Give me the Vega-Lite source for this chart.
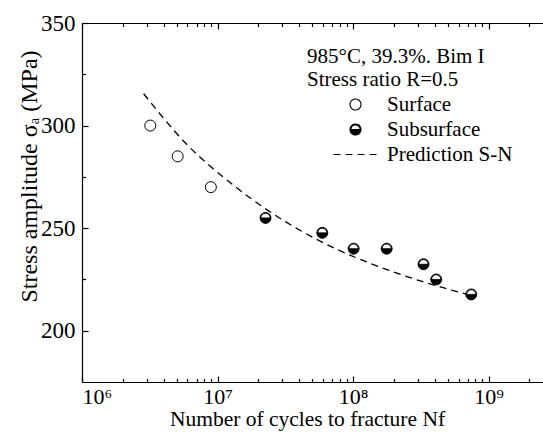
{
  "$schema": "https://vega.github.io/schema/vega-lite/v6.json",
  "autosize": "none",
  "padding": {"left": 82, "top": 23, "right": 0, "bottom": 55},
  "width": 461,
  "height": 359,
  "config": {
    "font": "Liberation Serif",
    "view": {"stroke": null},
    "axis": {
      "grid": false,
      "domainColor": "black",
      "domainWidth": 1.2,
      "tickColor": "black",
      "tickWidth": 1.2,
      "labelColor": "black",
      "titleColor": "black",
      "labelFontSize": 23,
      "titleFontSize": 23,
      "titleFontWeight": "normal"
    },
    "legend": {
      "orient": "none",
      "legendX": 225,
      "legendY": 23,
      "padding": 0,
      "titleFontSize": 21,
      "titleFontWeight": "normal",
      "titleColor": "black",
      "titleLineHeight": 23,
      "titlePadding": 4,
      "labelFontSize": 21,
      "labelColor": "black",
      "labelOffset": 21,
      "symbolSize": 121,
      "symbolOffset": 38,
      "symbolStrokeColor": "black",
      "symbolStrokeWidth": 1,
      "rowPadding": 3
    }
  },
  "datasets": {
    "tests": [
      {"cycles": 3190000, "stress": 300, "site": "Surface"},
      {"cycles": 5080000, "stress": 285, "site": "Surface"},
      {"cycles": 8930000, "stress": 270, "site": "Surface"},
      {"cycles": 22600000, "stress": 255, "site": "Subsurface"},
      {"cycles": 59300000, "stress": 247.7, "site": "Subsurface"},
      {"cycles": 101000000, "stress": 240, "site": "Subsurface"},
      {"cycles": 177000000, "stress": 240, "site": "Subsurface"},
      {"cycles": 331000000, "stress": 232.4, "site": "Subsurface"},
      {"cycles": 411000000, "stress": 225, "site": "Subsurface"},
      {"cycles": 745000000, "stress": 217.7, "site": "Subsurface"}
    ],
    "prediction": [
      {"cycles": 2850000, "stress": 315.5, "site": "Prediction S-N"},
      {"cycles": 5800000, "stress": 291.5, "site": "Prediction S-N"},
      {"cycles": 13600000, "stress": 270.1, "site": "Prediction S-N"},
      {"cycles": 23200000, "stress": 258.9, "site": "Prediction S-N"},
      {"cycles": 67900000, "stress": 241.2, "site": "Prediction S-N"},
      {"cycles": 146000000, "stress": 231.9, "site": "Prediction S-N"},
      {"cycles": 323000000, "stress": 224.0, "site": "Prediction S-N"},
      {"cycles": 620000000, "stress": 218.6, "site": "Prediction S-N"},
      {"cycles": 720000000, "stress": 217.4, "site": "Prediction S-N"}
    ]
  },
  "resolve": {"axis": {"x": "independent", "y": "independent"}},
  "layer": [
    {
      "data": {"name": "prediction"},
      "mark": {"type": "line", "color": "black", "strokeWidth": 1.3, "interpolate": "monotone"},
      "encoding": {
        "x": {
          "field": "cycles", "type": "quantitative",
          "scale": {"type": "log", "domain": [1000000, 2520000000], "nice": false},
          "axis": {
            "orient": "bottom",
            "values": [1000000, 10000000, 100000000, 1000000000],
            "tickSize": -6,
            "labelPadding": 10,
            "labelFontSize": 22,
            "labelExpr": "'10' + ['⁰','¹','²','³','⁴','⁵','⁶','⁷','⁸','⁹'][round(log(datum.value) / LN10)]",
            "title": "Number of cycles to fracture Nf",
            "titleFontSize": 21.5,
            "titlePadding": 1,
            "titleX": 225
          }
        },
        "y": {
          "field": "stress", "type": "quantitative",
          "scale": {"domain": [175, 350], "nice": false, "zero": false},
          "axis": {
            "orient": "left",
            "values": [200, 250, 300, 350],
            "tickSize": -6,
            "labelPadding": 13,
            "title": "Stress amplitude σₐ (MPa)",
            "titleFontSize": 24,
            "titleX": -41,
            "titleY": 153,
            "titleBaseline": "bottom"
          }
        },
        "strokeDash": {
          "field": "site", "type": "nominal",
          "scale": {"domain": ["Surface", "Subsurface", "Prediction S-N"], "range": [[1, 0], [1, 0], [7, 5]]},
          "legend": {
            "title": ["985°C, 39.3%. Bim I", "Stress ratio R=0.5"],
            "encode": {"symbols": {"update": {"stroke": {"value": "black"}, "strokeWidth": {"value": 1.1}, "opacity": {"value": 1}}}}
          }
        }
      }
    },
    {
      "data": {"name": "tests"},
      "transform": [{"filter": "datum.site === 'Surface'"}],
      "mark": {"type": "point", "stroke": "black", "strokeWidth": 1, "opacity": 1, "size": 121},
      "encoding": {
        "x": {
          "field": "cycles", "type": "quantitative",
          "scale": {"type": "log", "domain": [1000000, 2520000000], "nice": false},
          "axis": {
            "orient": "bottom",
            "values": [2000000, 3000000, 4000000, 5000000, 6000000, 7000000, 8000000, 9000000, 20000000, 30000000, 40000000, 50000000, 60000000, 70000000, 80000000, 90000000, 200000000, 300000000, 400000000, 500000000, 600000000, 700000000, 800000000, 900000000, 2000000000],
            "tickSize": -3.5,
            "labels": false,
            "domain": false,
            "title": null
          }
        },
        "y": {
          "field": "stress", "type": "quantitative",
          "scale": {"domain": [175, 350], "nice": false, "zero": false},
          "axis": {
            "orient": "left",
            "values": [225, 275, 325],
            "tickSize": -3.5,
            "labels": false,
            "domain": false,
            "title": null
          }
        },
        "shape": {
          "field": "site", "type": "nominal",
          "scale": {
            "domain": ["Surface", "Subsurface", "Prediction S-N"],
            "range": ["circle", "M -1 0 A 1 1 0 0 0 1 0 Z M -1 0 A 1 1 0 0 1 1 0 L 0.84 0 A 0.84 0.84 0 0 0 -0.84 0 Z", "M -4 0 L 4 0"]
          },
          "legend": {
            "title": ["985°C, 39.3%. Bim I", "Stress ratio R=0.5"],
            "encode": {"symbols": {"update": {"stroke": {"value": "black"}, "strokeWidth": {"value": 1.1}, "opacity": {"value": 1}}}}
          }
        },
        "fill": {
          "field": "site", "type": "nominal",
          "scale": {"domain": ["Surface", "Subsurface", "Prediction S-N"], "range": ["white", "black", "transparent"]},
          "legend": {
            "title": ["985°C, 39.3%. Bim I", "Stress ratio R=0.5"],
            "encode": {"symbols": {"update": {"stroke": {"value": "black"}, "strokeWidth": {"value": 1.1}, "opacity": {"value": 1}}}}
          }
        }
      }
    },
    {
      "data": {"name": "tests"},
      "transform": [{"filter": "datum.site === 'Subsurface'"}],
      "mark": {"type": "point", "shape": "circle", "filled": true, "color": "white", "opacity": 1, "size": 121},
      "encoding": {
        "x": {
          "field": "cycles", "type": "quantitative",
          "scale": {"type": "log", "domain": [1000000, 2520000000], "nice": false},
          "axis": {
            "orient": "top",
            "values": [1000000, 10000000, 100000000, 1000000000],
            "tickSize": -6,
            "labels": false,
            "title": null
          }
        },
        "y": {
          "field": "stress", "type": "quantitative",
          "scale": {"domain": [175, 350], "nice": false, "zero": false},
          "axis": null
        }
      }
    },
    {
      "data": {"name": "tests"},
      "transform": [{"filter": "datum.site === 'Subsurface'"}],
      "mark": {"type": "point", "stroke": "black", "strokeWidth": 0.8, "opacity": 1, "size": 121},
      "encoding": {
        "x": {
          "field": "cycles", "type": "quantitative",
          "scale": {"type": "log", "domain": [1000000, 2520000000], "nice": false},
          "axis": {
            "orient": "top",
            "values": [2000000, 3000000, 4000000, 5000000, 6000000, 7000000, 8000000, 9000000, 20000000, 30000000, 40000000, 50000000, 60000000, 70000000, 80000000, 90000000, 200000000, 300000000, 400000000, 500000000, 600000000, 700000000, 800000000, 900000000, 2000000000],
            "tickSize": -3.5,
            "labels": false,
            "domain": false,
            "title": null
          }
        },
        "y": {
          "field": "stress", "type": "quantitative",
          "scale": {"domain": [175, 350], "nice": false, "zero": false},
          "axis": null
        },
        "shape": {
          "field": "site", "type": "nominal",
          "scale": {
            "domain": ["Surface", "Subsurface", "Prediction S-N"],
            "range": ["circle", "M -1 0 A 1 1 0 0 0 1 0 Z M -1 0 A 1 1 0 0 1 1 0 L 0.84 0 A 0.84 0.84 0 0 0 -0.84 0 Z", "M -4 0 L 4 0"]
          }
        },
        "fill": {
          "field": "site", "type": "nominal",
          "scale": {"domain": ["Surface", "Subsurface", "Prediction S-N"], "range": ["white", "black", "transparent"]}
        }
      }
    }
  ]
}
